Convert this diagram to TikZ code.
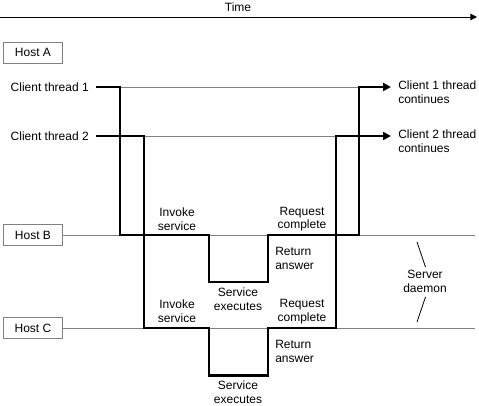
\documentclass[tikz,border=0pt]{standalone}
\usepackage{fontspec}
\setmainfont{Liberation Sans}
\usetikzlibrary{arrows.meta}
\tikzset{
	host/.style={draw=gray, minimum width=44pt, minimum height=15.5pt, inner sep=0pt},
	hostline/.style={draw=gray, line width=0.7pt},
	thread/.style={line width=1.6pt, line join=miter},
	lbl/.style={align=center, inner sep=0pt},
	tip/.style={-{Triangle[length=6pt,width=6pt]}}
}

\begin{document}
\begin{tikzpicture}[x=0.75pt,y=-0.75pt,font=\fontsize{9}{10.3}\selectfont]
			\useasboundingbox (0,0) rectangle (479,406);
			\node[lbl] (time) at (238,7) {Time};
			\coordinate (t0) at (0,17);
			\coordinate (t1) at (477,17);
			\draw[line width=0.7pt,-{Triangle[length=5pt,width=5pt]}] (t0) -- (t1);
			\node[host] (hostA) at (33,52.5) {Host A};
			\node[host] (hostB) at (33,235) {Host B};
			\node[host] (hostC) at (33,328) {Host C};
			\coordinate (bEnd) at (475,235);
			\coordinate (cEnd) at (475,328);
			\draw[hostline] (hostB.east) -- (bEnd);
			\draw[hostline] (hostC.east) -- (cEnd);
			\node[lbl,anchor=east] (ct1) at (89,87) {Client thread 1};
			\node[lbl,anchor=east] (ct2) at (89,136) {Client thread 2};
			\draw[hostline] (120,87) -- (359,87);
			\draw[hostline] (144,136) -- (336,136);
			\draw[thread,tip] (96,87) -- (120,87) -- (120,235) -- (209,235) -- (209,282)
				-- (268,282) -- (268,235) -- (359,235) -- (359,87) -- (391,87);
			\draw[thread,tip] (96,136) -- (144,136) -- (144,328) -- (209,328) -- (209,375.5)
				-- (268,375.5) -- (268,328) -- (336,328) -- (336,136) -- (391,136);
			\node[lbl,align=left,anchor=north west] (cont1) at (398,81) {Client 1 thread\\continues};
			\node[lbl,align=left,anchor=north west] (cont2) at (398,130) {Client 2 thread\\continues};
			\node[lbl] (invB) at (177,219) {Invoke\\service};
			\node[lbl] (reqB) at (302,219) {Request\\complete};
			\node[lbl,align=left,anchor=west] (retB) at (275,258.5) {Return\\answer};
			\node[lbl] (exeB) at (238,299) {Service\\executes};
			\node[lbl] (invC) at (177,311.5) {Invoke\\service};
			\node[lbl] (reqC) at (302,311.5) {Request\\complete};
			\node[lbl,align=left,anchor=west] (retC) at (275,351.5) {Return\\answer};
			\node[lbl] (exeC) at (238,392.5) {Service\\executes};
			\node[lbl] (daemon) at (425,281.5) {Server\\daemon};
			\draw[line width=0.6pt] (417,242) -- (425.5,267);
			\draw[line width=0.6pt] (425.5,297) -- (417,322);
		\end{tikzpicture}
\end{document}
